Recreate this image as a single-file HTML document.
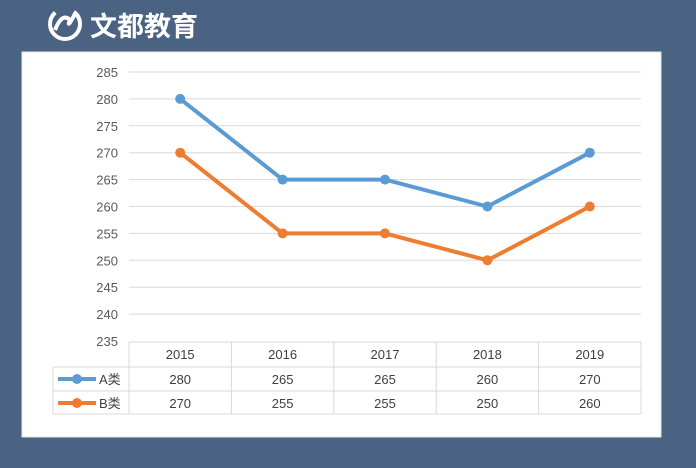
<!DOCTYPE html>
<html><head><meta charset="utf-8"><style>
body{margin:0;width:696px;height:463px;background:#4b6382;overflow:hidden;font-family:"Liberation Sans","Noto Sans CJK SC",sans-serif}
</style></head><body>
<svg width="696" height="463" xmlns="http://www.w3.org/2000/svg">
<rect x="0" y="0" width="696" height="463" fill="#4b6382"/>
<g>
<circle cx="65" cy="24" r="15" fill="none" stroke="#fff" stroke-width="4" stroke-dasharray="60 20"/>
<path d="M55 30 Q62 12 70 20 Q66 30 75 14" fill="none" stroke="#fff" stroke-width="4"/>
<text x="90" y="36" font-size="27" font-weight="bold" fill="#fff" font-family="'Noto Sans CJK SC',sans-serif">文都教育</text>
</g>
<rect x="22" y="52" width="639" height="385" fill="#fff" stroke="#e6e6e6"/>
<g id="grid"></g><g id="yt"></g><g id="tbl"></g><g id="series"></g>
</svg>
<script>
const categories=["2015","2016","2017","2018","2019"];
const seriesA=[280,265,265,260,270];
const seriesB=[270,255,255,250,260];
const yTicks=[235,240,245,250,255,260,265,270,275,280,285];
const NS="http://www.w3.org/2000/svg";
const x0=129,cw=102.4,yMin=235,yMax=285,yTop=72,yBot=341;
function y(v){return yBot-(v-yMin)/(yMax-yMin)*(yBot-yTop);}
function x(i){return x0+cw*(i+0.5);}
function mk(t,a,p){const e=document.createElementNS(NS,t);for(const k in a)e.setAttribute(k,a[k]);document.getElementById(p).appendChild(e);return e;}
yTicks.forEach(v=>{
 if(v>yMin){const l=mk('line',{x1:x0,x2:641,y1:y(v),y2:y(v),stroke:'#d9d9d9','stroke-width':1},'grid');
 
 }
 const t=mk('text',{x:118,y:y(v)+5,'text-anchor':'end','font-size':13,fill:'#595959'},'yt');t.textContent=v;
 
 
});
// table
const rows=[342,367,391,414];
[[x0,342,641,342],[53,367,641,367],[53,391,641,391],[53,414,641,414],[53,367,53,414]].forEach(c=>{
 const l=mk('line',{x1:c[0],y1:c[1],x2:c[2],y2:c[3],stroke:'#d9d9d9'},'tbl');
 
 
});
for(let i=0;i<=categories.length;i++){
 const l=mk('line',{x1:x0+cw*i,x2:x0+cw*i,y1:342,y2:414,stroke:'#d9d9d9'},'tbl');
 
 
}
categories.forEach((c,i)=>{
 const t=mk('text',{x:x(i),y:359,'text-anchor':'middle','font-size':13,fill:'#404040'},'tbl');t.textContent=c;
 
 
 [[seriesA,384],[seriesB,408]].forEach(s=>{
  const v=mk('text',{x:x(i),y:s[1],'text-anchor':'middle','font-size':13,fill:'#404040'},'tbl');v.textContent=s[0][i];
  
  
 });
});
function series(vals,color,name,ly){
 const pts=vals.map((v,i)=>x(i)+','+y(v)).join(' ');
 const p=mk('polyline',{points:pts,fill:'none',stroke:color,'stroke-width':4,'stroke-linejoin':'round'},'series');
 
 
 vals.forEach((v,i)=>{const c=mk('circle',{cx:x(i),cy:y(v),r:5,fill:color},'series');
  
  });
 const l=mk('line',{x1:58,x2:96,y1:ly,y2:ly,stroke:color,'stroke-width':4},'tbl');
 
 
 const c=mk('circle',{cx:77,cy:ly,r:5,fill:color},'tbl');
 
 
 const t=mk('text',{x:99,y:ly+5,'font-size':13,fill:'#404040'},'tbl');t.textContent=name;
 
 
}
series(seriesA,'#5b9bd5','A类',379);
series(seriesB,'#ed7d31','B类',403);
</script>
</body></html>
